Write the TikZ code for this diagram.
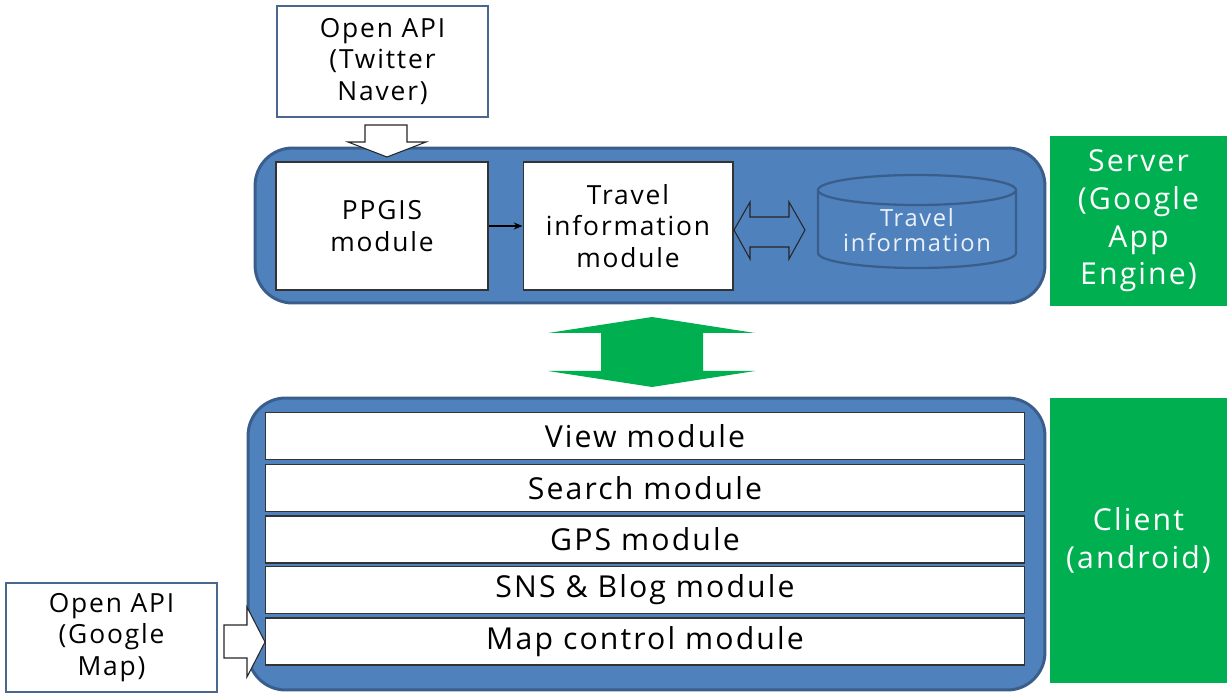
\documentclass[tikz,border=0pt]{standalone}
\usepackage{fontspec}
\setmainfont[LetterSpace=7]{Open Sans}
\usetikzlibrary{arrows.meta}

\definecolor{panelblue}{HTML}{4F81BD}
\definecolor{panelline}{HTML}{3A5E8C}
\definecolor{tiergreen}{HTML}{00B050}
\definecolor{boxline}{HTML}{4A6790}

\tikzset{
  panel/.style={shape=rectangle,draw=panelline,fill=panelblue,line width=1.7pt,rounded corners=0.75cm},
  whitebox/.style={shape=rectangle,draw=black!80,fill=white,line width=0.6pt,align=center,font=\fontsize{15}{17.9}\selectfont},
  apibox/.style={whitebox,draw=boxline},
  modrow/.style={whitebox,minimum width=15.2cm,minimum height=0.94cm,font=\fontsize{17.2}{20}\selectfont},
  tierbox/.style={shape=rectangle,fill=tiergreen,text=white,align=center,minimum width=3.54cm,font=\fontsize{17.2}{21.5}\selectfont},
  blockarrow/.style={draw=black!85,line width=0.6pt,line join=miter}
}

\begin{document}
\begin{tikzpicture}[x=0.02cm,y=-0.02cm,>={Stealth[length=5pt,width=4pt]}]
\useasboundingbox (0,0) rectangle (1229,695);

% server side
\node (server) at (650,225.5) [panel,minimum width=15.8cm,minimum height=3.1cm] {};
\node (api1)   at (382.5,61.5) [apibox,minimum width=4.22cm,minimum height=2.22cm] {Open API\\(Twitter\\Naver)};
\node (ppgis)  at (382,226) [whitebox,minimum width=4.24cm,minimum height=2.56cm] {PPGIS\\module};
\node (travel) at (628,226) [whitebox,minimum width=4.2cm,minimum height=2.56cm] {Travel\\information\\module};
\draw [->,line width=0.6pt] (ppgis) -- (travel);

% database
\draw [draw=panelline,fill=panelblue,line width=1.3pt]
  (818,190) -- (818,253) arc[start angle=180,end angle=0,x radius=99,y radius=15] -- (1016,190);
\draw [draw=panelline,fill=panelblue,line width=1.3pt] (917,190) ellipse [x radius=99,y radius=15];
\node (db) at (917,230) [align=center,text=white!88!panelblue,font=\fontsize{13.5}{14.2}\selectfont] {Travel\\information};

% block arrows
\draw [blockarrow,fill=white] (365,125) -- (407,125) -- (407,142) -- (426,142) -- (387,157)
  -- (348,142) -- (365,142) -- cycle;
\draw [blockarrow] (734,230) -- (750,202) -- (750,217) -- (789,217) -- (789,202) -- (805,230)
  -- (789,259) -- (789,247) -- (750,247) -- (750,259) -- cycle;
\fill [tiergreen] (652,317) -- (755,333) -- (703,333) -- (703,371) -- (755,371) -- (652,387)
  -- (548,371) -- (601,371) -- (601,333) -- (548,333) -- cycle;

% client side
\node (client) at (646.5,544) [panel,minimum width=15.94cm,minimum height=5.84cm] {};
\node (view)   at (645,436) [modrow] {View module};
\node (search) at (645,488) [modrow] {Search module};
\node (gps)    at (645,539.5) [modrow] {GPS module};
\node (sns)    at (645,590) [modrow] {SNS \& Blog module};
\node (map)    at (645,641.5) [modrow] {Map control module};
\node (api2)   at (111.5,637.5) [apibox,minimum width=4.22cm,minimum height=2.18cm] {Open API\\(Google\\Map)};
\draw [blockarrow,fill=white] (224,625) -- (247,625) -- (247,607) -- (265,642) -- (247,677)
  -- (247,658) -- (224,658) -- cycle;

% tiers
\node (tier1) at (1138.5,221) [tierbox,minimum height=3.4cm] {Server\\(Google\\App\\Engine)};
\node (tier2) at (1138.5,540.5) [tierbox,minimum height=5.7cm] {Client\\(android)};
\end{tikzpicture}
\end{document}
